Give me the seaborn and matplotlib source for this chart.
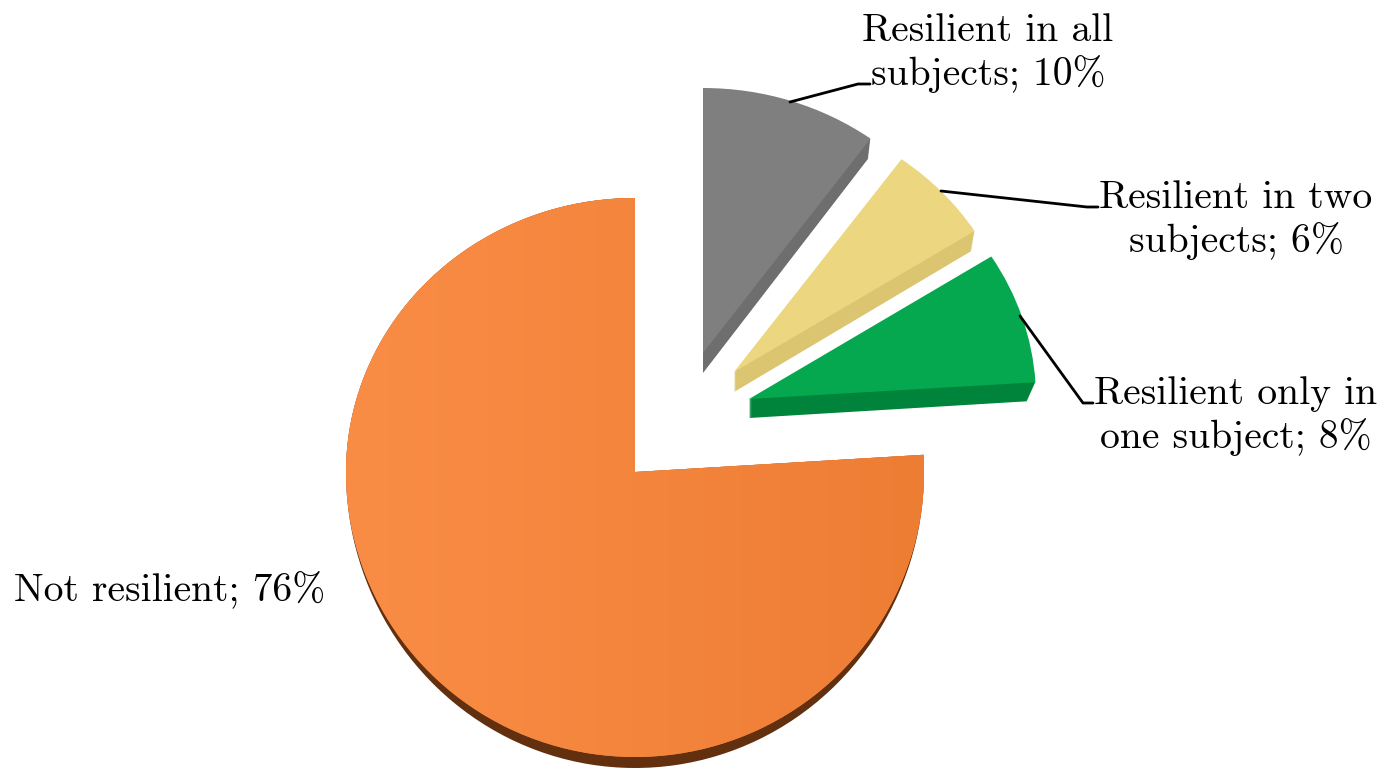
import numpy as np
import matplotlib
matplotlib.use("Agg")
import matplotlib.pyplot as plt
import seaborn as sns
from matplotlib.patches import PathPatch
from matplotlib.path import Path

# Shares of students by resilience group, counter-clockwise from twelve o'clock
categories = ["Not resilient", "Resilient only in one subject",
              "Resilient in two subjects", "Resilient in all subjects"]
shares = [76, 8, 6, 10]
wrapped_names = ["Not resilient;", "Resilient only in\none subject;",
                 "Resilient in two\nsubjects;", "Resilient in all\nsubjects;"]

top_colors = ["#F5843C", "#05A84E", "#ECD67F", "#7F7F7F"]
side_colors = ["#62300F", "#00833A", "#DCC570", "#6E6E6E"]

# Pixel-based layout of each slice: apex, horizontal radius, upward and downward radii, thickness
apexes = [(635, 472), (749, 399), (734, 372), (703, 353)]
radius_x = [289, 287, 285, 285]
radius_up = [274, 266, 263, 265]
radius_down = [285, 285, 285, 285]
depths = [11, 19, 20, 20]
side_taper = [0.0, 0.45, 0.2, 0.2]

label_centers = [(170, 590), (1236, 416), (1236, 220), (988, 53)]
leaders = [None,
           [(1020, 316), (1083, 403), (1093, 403)],
           [(941, 191), (1087, 207), (1098, 207)],
           [(790, 102), (858, 84), (870, 84)]]

W, H = 1384, 769

sns.set_theme(style="white")
plt.rcParams["font.family"] = ["cmr10", "Liberation Serif", "DejaVu Serif"]
plt.rcParams["axes.unicode_minus"] = False

fig = plt.figure(figsize=(W / 100, H / 100), dpi=100, facecolor="white")
ax = fig.add_axes([0, 0, 1, 1])

# The pie supplies the angular geometry; each slice is then projected into a tilted view
wedges, _ = ax.pie(shares, startangle=90, counterclock=True, radius=1, frame=True,
                   colors=sns.color_palette(top_colors))
slices = []
for w in wedges:
    slices.append(w.get_patch_transform().transform_path(w.get_path()))
    w.set_visible(False)

ax.set_xlim(0, W)
ax.set_ylim(H, 0)
ax.set_aspect("auto")
ax.axis("off")


def project(path, apex, rx, up, down, shift=0.0):
    """Map a unit-circle slice to pixel space, squeezing the far half of the disc."""
    v = path.vertices
    x = apex[0] + v[:, 0] * rx
    y = apex[1] - np.where(v[:, 1] > 0, v[:, 1] * up, v[:, 1] * down) + shift
    return Path(np.column_stack([x, y]), path.codes)


for i, path in enumerate(slices):
    args = (path, apexes[i], radius_x[i], radius_up[i], radius_down[i])
    if i == 0:
        # The large slice shows its rim only along the near arc
        rim = project(path, apexes[i], radius_x[i], radius_up[i], radius_down[i] + depths[i])
        ax.add_patch(PathPatch(rim, fc=side_colors[i], ec="none", zorder=2))
    else:
        # Extruded side of the slice, swept downward and slightly inward
        for s in np.arange(depths[i], 0, -1.0):
            side = project(path, apexes[i], radius_x[i] - s * side_taper[i],
                           radius_up[i], radius_down[i], shift=s)
            ax.add_patch(PathPatch(side, fc=side_colors[i], ec="none", zorder=2))
    face = PathPatch(project(*args), fc=top_colors[i], ec="none", zorder=3)
    ax.add_patch(face)
    if i == 0:
        # Soft left-to-right shading across the large slice
        ramp = np.linspace(0, 1, 256).reshape(1, -1, 1)
        light = np.array(matplotlib.colors.to_rgb("#FA8D46"))
        dark = np.array(matplotlib.colors.to_rgb("#EE7D34"))
        img = ax.imshow(light + (dark - light) * ramp, extent=(340, 925, 770, 190),
                        aspect="auto", zorder=4, interpolation="bilinear")
        img.set_clip_path(face)

ax.set_xlim(0, W)
ax.set_ylim(H, 0)

for name, value, (x, y), line in zip(wrapped_names, shares, label_centers, leaders):
    ax.text(x, y, f"{name} {value}%", ha="center", va="center", fontsize=28.5,
            color="black", linespacing=1.22, zorder=6)
    if line:
        xs, ys = zip(*line)
        ax.plot(xs, ys, color="black", lw=2.0, solid_joinstyle="round", zorder=5)

fig.savefig("out.png", dpi=100, facecolor="white")
